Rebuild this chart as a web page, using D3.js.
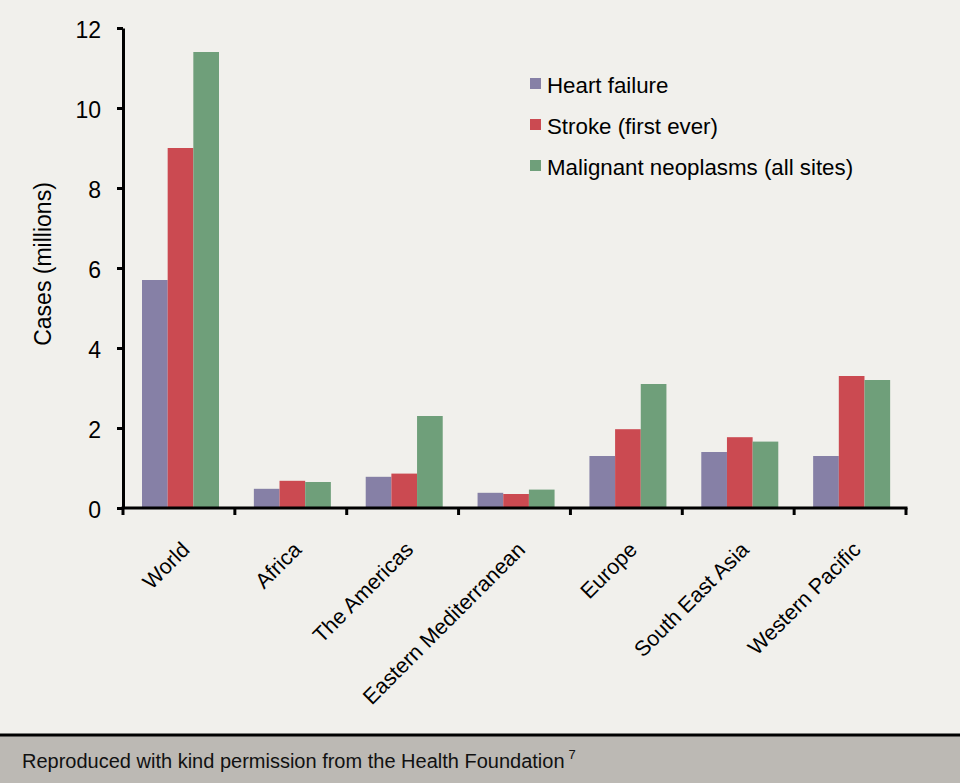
<!DOCTYPE html>
<html>
<head>
<meta charset="utf-8">
<script src="https://cdn.jsdelivr.net/npm/d3@7"></script>
<style>
  body { margin: 0; background: #f1f0ec; }
  svg { display: block; font-family: "Liberation Sans", Arial, sans-serif; }
</style>
</head>
<body>
<div id="chart"></div>
<script>
// data
var regions = ["World", "Africa", "The Americas", "Eastern Mediterranean", "Europe", "South East Asia", "Western Pacific"]
var seriesNames = ["Heart failure", "Stroke (first ever)", "Malignant neoplasms (all sites)"]
var heartFailure = [5.7, 0.48, 0.78, 0.38, 1.3, 1.4, 1.3]
var stroke = [9.0, 0.68, 0.86, 0.35, 1.97, 1.77, 3.3]
var malignant = [11.4, 0.65, 2.3, 0.46, 3.1, 1.66, 3.2]
var yTicks = [0, 2, 4, 6, 8, 10, 12]
var colors = ["#8680a6", "#cb4a51", "#6f9f7a"]
var seriesValues = [heartFailure, stroke, malignant]

var screen = {width: 960, height: 783}

var svg = d3.select("#chart").append("svg")
  .attr("width", screen.width)
  .attr("height", screen.height)

svg.append("rect")
  .attr("width", screen.width)
  .attr("height", screen.height)
  .attr("fill", "#f1f0ec")

// scales
var x0 = d3.scaleBand()
  .domain(regions)
  .range([123, 906])
  .padding(0)
var x1 = d3.scaleBand()
  .domain(seriesNames)
  .range([19, 96])
var yScale = d3.scaleLinear()
  .domain([0, 12])
  .range([508, 28])

// bars
var groups = svg.selectAll("g.region")
  .data(regions)
  .enter().append("g")
  .attr("class", "region")
  .attr("transform", function(d) { return "translate(" + x0(d) + ",0)" })

groups.selectAll("rect")
  .data(function(d, i) {
    return seriesNames.map(function(s, j) { return {series: s, value: seriesValues[j][i], k: j} })
  })
  .enter().append("rect")
  .attr("x", function(d) { return x1(d.series) })
  .attr("width", x1.bandwidth())
  .attr("y", function(d) { return yScale(d.value) })
  .attr("height", function(d) { return yScale(0) - yScale(d.value) })
  .attr("fill", function(d) { return colors[d.k] })

// y axis
var yAxis = d3.axisLeft(yScale)
  .tickValues(yTicks)
  .tickSize(6)
  .tickSizeOuter(0)
  .tickPadding(16)
var gy = svg.append("g")
  .attr("transform", "translate(123,0)")
  .call(yAxis)
gy.select(".domain").attr("stroke", "#000").attr("stroke-width", 3)
gy.selectAll(".tick line").attr("stroke", "#000").attr("stroke-width", 3)
gy.selectAll(".tick text")
  .attr("fill", "#000")
  .attr("dy", "0.42em")
  .style("font-size", "23px")

// x axis line + category ticks
var xr = x0.range()
svg.append("line")
  .attr("x1", xr[0] - 1.5).attr("x2", xr[1] + 1.5)
  .attr("y1", yScale(0)).attr("y2", yScale(0))
  .attr("stroke", "#000").attr("stroke-width", 3)

var boundaries = regions.map(function(d) { return x0(d) }).concat([xr[1]])
svg.selectAll("line.xtick")
  .data(boundaries)
  .enter().append("line")
  .attr("class", "xtick")
  .attr("x1", function(d) { return d }).attr("x2", function(d) { return d })
  .attr("y1", yScale(0)).attr("y2", yScale(0) + 7)
  .attr("stroke", "#000").attr("stroke-width", 3)

svg.selectAll("text.xlabel")
  .data(regions)
  .enter().append("text")
  .attr("class", "xlabel")
  .attr("transform", function(d) {
    return "translate(" + (x0(d) + x0.bandwidth() / 2 + 12) + "," + (yScale(0) + 43) + ") rotate(-45)"
  })
  .attr("text-anchor", "end")
  .style("font-size", "21.5px")
  .text(function(d) { return d })

// y axis title
svg.append("text")
  .attr("transform", "translate(51,264) rotate(-90)")
  .attr("text-anchor", "middle")
  .style("font-size", "23px")
  .text("Cases (millions)")

// legend
var legend = svg.selectAll("g.legend")
  .data(seriesNames)
  .enter().append("g")
  .attr("class", "legend")
  .attr("transform", function(d, i) { return "translate(530," + (78 + i * 41) + ")" })
legend.append("rect")
  .attr("width", 11).attr("height", 11)
  .attr("fill", function(d, i) { return colors[i] })
legend.append("text")
  .attr("x", 17)
  .attr("y", 15)
  .style("font-size", "22.3px")
  .text(function(d) { return d })

// footer
svg.append("rect")
  .attr("x", 0).attr("y", 736)
  .attr("width", screen.width).attr("height", screen.height - 736)
  .attr("fill", "#bcb9b4")
svg.append("line")
  .attr("x1", 0).attr("x2", screen.width)
  .attr("y1", 735).attr("y2", 735)
  .attr("stroke", "#000").attr("stroke-width", 3)
var foot = svg.append("text")
  .attr("x", 22)
  .attr("y", 768)
  .style("font-size", "20px")
  .attr("fill", "#111")
foot.append("tspan").text("Reproduced with kind permission from the Health Foundation")
foot.append("tspan")
  .attr("dx", 4)
  .attr("dy", -9)
  .style("font-size", "13px")
  .text("7")
</script>
</body>
</html>
